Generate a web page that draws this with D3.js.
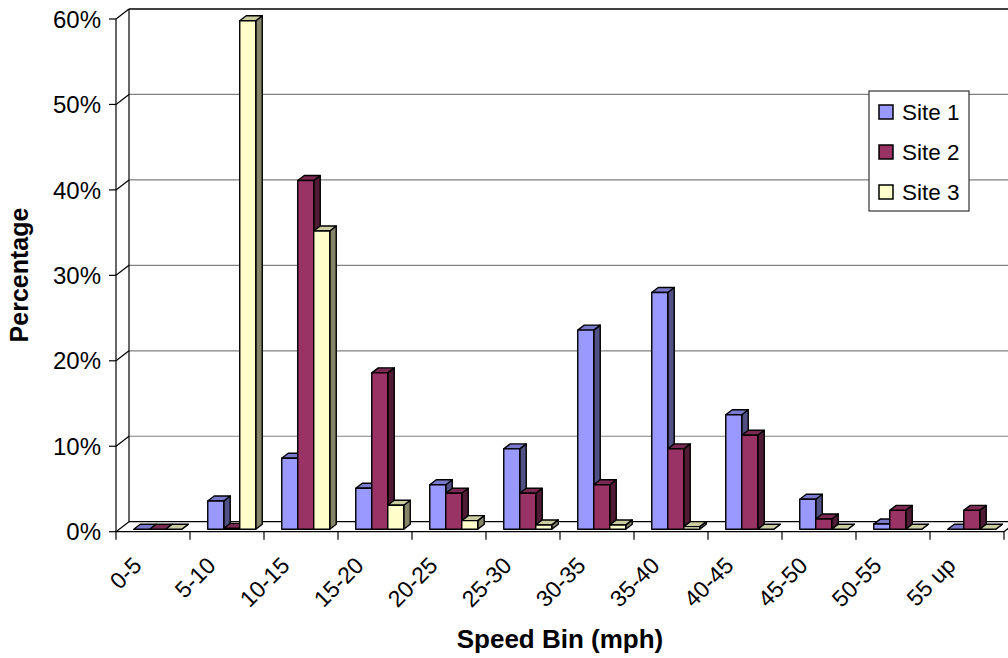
<!DOCTYPE html>
<html>
<head>
<meta charset="utf-8">
<script src="https://cdn.jsdelivr.net/npm/d3@7"></script>
<style>
    body { margin: 0; background: #fff; }
    svg { display: block; font-family: Arial, "Liberation Sans", sans-serif; }
</style>
</head>
<body>
<div id="chart"></div>
<script>
const categories = ["0-5", "5-10", "10-15", "15-20", "20-25", "25-30", "30-35", "35-40", "40-45", "45-50", "50-55", "55 up"];
const seriesNames = ["Site 1", "Site 2", "Site 3"];
const site1 = [0, 3.3, 8.3, 4.8, 5.2, 9.4, 23.3, 27.7, 13.4, 3.5, 0.6, 0];
const site2 = [0, 0.1, 40.8, 18.3, 4.2, 4.2, 5.2, 9.4, 11.0, 1.2, 2.2, 2.2];
const site3 = [0, 59.5, 34.9, 2.8, 1.0, 0.5, 0.5, 0.3, 0, 0, 0, 0];
const yTicks = [0, 10, 20, 30, 40, 50, 60];

const width = 1008;
const height = 658;

// oblique depth offset of the back wall
const depthX = 13;
const depthY = -10;

const colors = ["#9999ff", "#993366", "#ffffcc"];

const x = d3.scaleBand().domain(categories).range([116, 1004]);
const inner = d3.scaleBand().domain(seriesNames).range([14.5, 62.5]);
const y = d3.scaleLinear().domain([0, 60]).range([531.7, 19]);

// project a point at depth d (0 = front, 1 = back wall)
const proj = (px, py, d) => [px + depthX * d, py + depthY * d];

const svg = d3.select("#chart").append("svg")
    .attr("width", width)
    .attr("height", height);

const wall = svg.append("g");

// back wall gridlines
yTicks.forEach(t => {
    const [bx, by] = proj(116, y(t), 1);
    wall.append("line")
        .attr("x1", bx).attr("x2", x.range()[1] + depthX)
        .attr("y1", by).attr("y2", by)
        .attr("stroke", (t === 60 || t === 0) ? "#000" : "#808080")
        .attr("stroke-width", t === 60 ? 1.6 : 1.2);
});

wall.append("line")
    .attr("x1", 116 + depthX).attr("x2", 116 + depthX)
    .attr("y1", y(60) + depthY).attr("y2", y(0) + depthY)
    .attr("stroke", "#000").attr("stroke-width", 1.2);

wall.append("line")
    .attr("x1", x.range()[1]).attr("y1", y(0))
    .attr("x2", x.range()[1] + depthX).attr("y2", y(0) + depthY)
    .attr("stroke", "#000").attr("stroke-width", 1.2);

// y axis on the front plane
const yAxis = svg.append("g");
yAxis.append("line")
    .attr("x1", 116).attr("x2", 116)
    .attr("y1", y(60)).attr("y2", y(0))
    .attr("stroke", "#000").attr("stroke-width", 1.2);

yTicks.forEach(t => {
    yAxis.append("line")
        .attr("x1", 109).attr("x2", 116)
        .attr("y1", y(t)).attr("y2", y(t))
        .attr("stroke", "#000").attr("stroke-width", 1.2);
    yAxis.append("line")
        .attr("x1", 116).attr("y1", y(t))
        .attr("x2", 116 + depthX).attr("y2", y(t) + depthY)
        .attr("stroke", "#000").attr("stroke-width", 1.2);
    yAxis.append("text")
        .attr("x", 101)
        .attr("y", y(t))
        .attr("dy", "0.36em")
        .attr("text-anchor", "end")
        .attr("font-size", 24)
        .text(t + "%");
});

// x axis on the front plane
const xAxis = svg.append("g");
xAxis.append("line")
    .attr("x1", 116).attr("x2", x.range()[1])
    .attr("y1", y(0)).attr("y2", y(0))
    .attr("stroke", "#000").attr("stroke-width", 1.2);

categories.concat([null]).forEach((c, i) => {
    const tx = 116 + x.step() * i;
    xAxis.append("line")
        .attr("x1", tx).attr("x2", tx)
        .attr("y1", y(0)).attr("y2", y(0) + 8)
        .attr("stroke", "#000").attr("stroke-width", 1.2);
});

xAxis.selectAll("text.cat")
    .data(categories)
    .enter()
    .append("text")
    .attr("class", "cat")
    .attr("text-anchor", "end")
    .attr("font-size", 23)
    .attr("transform", d => `translate(${x(d) + x.bandwidth() / 2 - 10}, 567) rotate(-45)`)
    .text(d => d);

// bars
const shade = (c, k) => {
    const r = d3.rgb(c);
    return d3.rgb(r.r * k, r.g * k, r.b * k).formatHex();
};
const seriesData = [site1, site2, site3];
const bars = svg.append("g");
const poly = pts => "M" + pts.map(p => p.join(",")).join("L") + "Z";

categories.forEach((cat, ci) => {
    seriesNames.forEach((name, si) => {
        const v = seriesData[si][ci];
        const x0 = x(cat) + inner(name);
        const x1 = x0 + inner.bandwidth();
        const yb = y(0);
        const yt = y(v);
        const f0 = proj(x0, yb, 0.25), f1 = proj(x1, yb, 0.25);
        const t0 = proj(x0, yt, 0.25), t1 = proj(x1, yt, 0.25);
        const b0 = proj(x0, yt, 0.75), b1 = proj(x1, yt, 0.75);
        const s1 = proj(x1, yb, 0.75);
        const g = bars.append("g")
            .attr("stroke", "#000")
            .attr("stroke-width", 1.4)
            .attr("stroke-linejoin", "round");

        g.append("path")
            .attr("d", poly([f1, t1, b1, s1]))
            .attr("fill", shade(colors[si], 0.52));
        g.append("path")
            .attr("d", poly([t0, t1, b1, b0]))
            .attr("fill", shade(colors[si], 0.8));
        if (v > 0) {
            g.append("path")
                .attr("d", poly([f0, f1, t1, t0]))
                .attr("fill", colors[si]);
        }
    });
});

// axis titles
svg.append("text")
    .attr("transform", `translate(19, 275) rotate(-90)`)
    .attr("text-anchor", "middle")
    .attr("dy", "0.35em")
    .attr("font-size", 25)
    .attr("font-weight", "bold")
    .text("Percentage");

svg.append("text")
    .attr("x", 560)
    .attr("y", 648)
    .attr("text-anchor", "middle")
    .attr("font-size", 26)
    .attr("font-weight", "bold")
    .text("Speed Bin (mph)");

// legend
const legend = svg.append("g").attr("transform", "translate(869, 91)");
legend.append("rect")
    .attr("width", 100).attr("height", 120)
    .attr("fill", "#fff")
    .attr("stroke", "#333").attr("stroke-width", 1.2);

const rows = legend.selectAll("g.row")
    .data(seriesNames)
    .enter()
    .append("g")
    .attr("class", "row")
    .attr("transform", (d, i) => `translate(10, ${21 + i * 40})`);

rows.append("rect")
    .attr("x", 0).attr("y", -7)
    .attr("width", 14).attr("height", 14)
    .attr("fill", (d, i) => colors[i])
    .attr("stroke", "#000").attr("stroke-width", 1.5);

rows.append("text")
    .attr("x", 23)
    .attr("dy", "0.36em")
    .attr("font-size", 22.5)
    .text(d => d);
</script>
</body>
</html>
